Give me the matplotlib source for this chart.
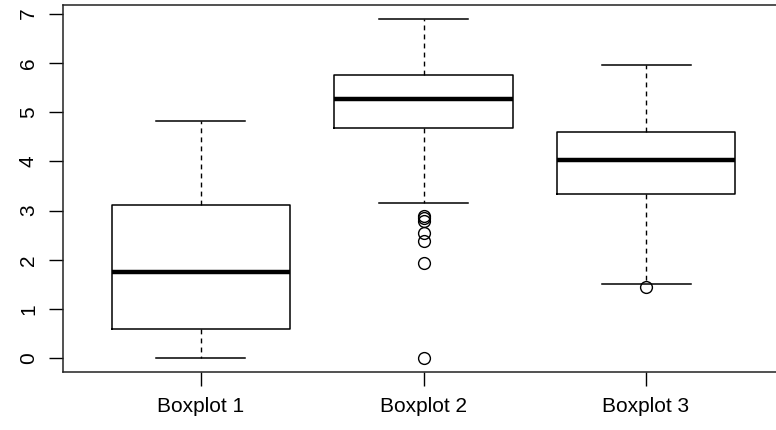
import matplotlib.pyplot as plt

plt.rcParams['font.family'] = ['Liberation Sans', 'DejaVu Sans']

# summary stats
labels = ['Boxplot 1', 'Boxplot 2', 'Boxplot 3']
whisker_low = [0.0, 3.15, 1.51]
q1 = [0.59, 4.68, 3.34]
median = [1.75, 5.27, 4.03]
q3 = [3.12, 5.76, 4.60]
whisker_high = [4.83, 6.90, 5.96]
outliers = [[], [2.90, 2.85, 2.80, 2.55, 2.38, 1.93, 0.0], [1.45]]

stats = []
for i in range(len(labels)):
    stats.append({'label': labels[i], 'whislo': whisker_low[i], 'q1': q1[i],
                  'med': median[i], 'q3': q3[i], 'whishi': whisker_high[i],
                  'fliers': outliers[i]})

fig = plt.figure(figsize=(7.76, 4.30), dpi=100)
ax = fig.add_axes([63/776, 58/430, 721/776, 367/430])

ax.bxp(stats, positions=[1, 2, 3], widths=0.8,
       boxprops=dict(color='black', linewidth=1.1),
       medianprops=dict(color='black', linewidth=3.2, solid_capstyle='butt'),
       whiskerprops=dict(color='black', linewidth=1.0, linestyle=(0, (3.5, 3))),
       capprops=dict(color='black', linewidth=1.1),
       capwidths=0.4,
       flierprops=dict(marker='o', markerfacecolor='none', markeredgecolor='black',
                       markersize=8.5, markeredgewidth=1.0))

ax.set_xlim(0.38, 3.62)
ax.set_ylim(-0.276, 7.176)
ax.set_yticks(range(0, 8))
ax.set_yticklabels([str(v) for v in range(0, 8)], rotation=90, va='center')
ax.set_xticks([1, 2, 3])
ax.set_xticklabels(labels)
ax.tick_params(axis='both', direction='out', length=10, width=1.0, labelsize=15, colors='black')
ax.tick_params(axis='y', pad=8)
ax.tick_params(axis='x', pad=8)
for s in ax.spines.values():
    s.set_linewidth(1.1)
    s.set_color('#222222')

plt.savefig('out.png', dpi=100)
